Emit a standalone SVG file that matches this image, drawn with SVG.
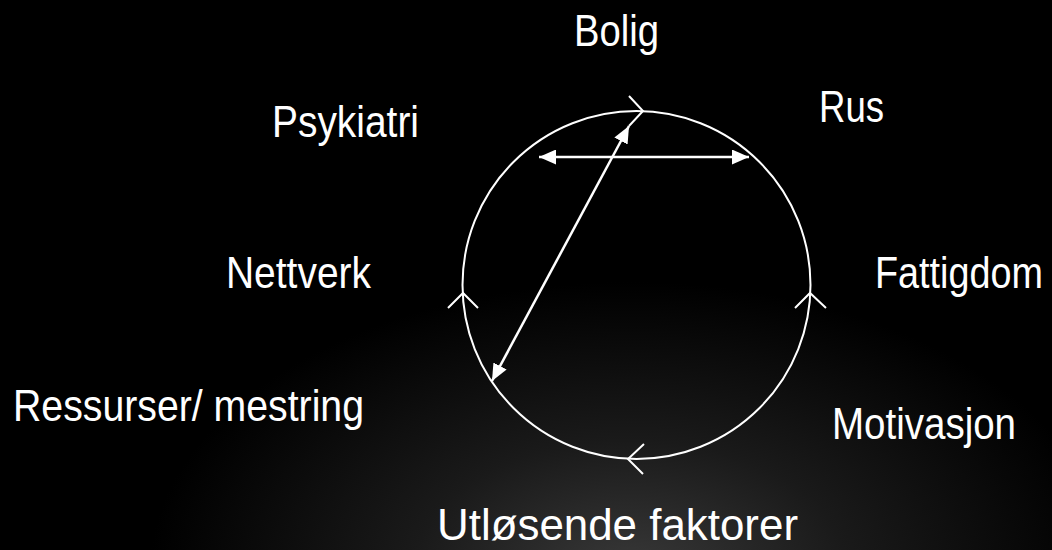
<svg xmlns="http://www.w3.org/2000/svg" width="1052" height="550" viewBox="0 0 1052 550">
<defs>
<radialGradient id="glow" gradientUnits="userSpaceOnUse" cx="630" cy="570" r="480" gradientTransform="translate(630 570) scale(1 0.6) translate(-630 -570)">
<stop offset="0" stop-color="#383838"/>
<stop offset="0.45" stop-color="#1a1a1a"/>
<stop offset="1" stop-color="#000000"/>
</radialGradient>
<marker id="ah" viewBox="0 0 17 15" refX="17" refY="7.5" markerWidth="17" markerHeight="15" markerUnits="userSpaceOnUse" orient="auto-start-reverse">
<path d="M0 0 L17 7.5 L0 15 Z" fill="#fff"/>
</marker>
<style>
.lbl{font-family:"Liberation Sans Narrow","Liberation Sans",Arial,sans-serif;font-size:45px;fill:#fff}
.ring{fill:none;stroke:#fff;stroke-width:2}
.chev{fill:none;stroke:#fff;stroke-width:2}
.arr{fill:none;stroke:#fff;stroke-width:2.5;marker-start:url(#ah);marker-end:url(#ah)}
</style>
</defs>
<rect width="1052" height="550" fill="#000"/>
<rect width="1052" height="550" fill="url(#glow)"/>
<g id="cycle">
<circle class="ring" cx="636.5" cy="285" r="174"/>
<path class="chev" d="M629 96 L643 111 L629 126"/>
<path class="chev" d="M448 308 L463 293 L478 308"/>
<path class="chev" d="M795 308 L810 293 L826 308"/>
<path class="chev" d="M644 444 L628 459 L643 474"/>
</g>
<g id="connectors">
<line class="arr" x1="539" y1="157" x2="749" y2="157"/>
<line class="arr" x1="492" y1="381" x2="629" y2="126"/>
</g>
<g id="bolig"><text class="lbl" x="574" y="46" textLength="85" lengthAdjust="spacingAndGlyphs">Bolig</text></g>
<g id="rus"><text class="lbl" x="819" y="122" textLength="65" lengthAdjust="spacingAndGlyphs">Rus</text></g>
<g id="psykiatri"><text class="lbl" x="272" y="137" textLength="147" lengthAdjust="spacingAndGlyphs">Psykiatri</text></g>
<g id="nettverk"><text class="lbl" x="226" y="288" textLength="145" lengthAdjust="spacingAndGlyphs">Nettverk</text></g>
<g id="fattigdom"><text class="lbl" transform="translate(875 288) scale(0.84 1)" x="0" y="0">Fattigdom</text></g>
<g id="ressurser"><text class="lbl" x="13" y="421" textLength="351" lengthAdjust="spacingAndGlyphs">Ressurser/ mestring</text></g>
<g id="motivasjon"><text class="lbl" x="832" y="439" textLength="184" lengthAdjust="spacingAndGlyphs">Motivasjon</text></g>
<g id="utlosende"><text class="lbl" x="437" y="540" textLength="361" lengthAdjust="spacingAndGlyphs">Utløsende faktorer</text></g>
</svg>
